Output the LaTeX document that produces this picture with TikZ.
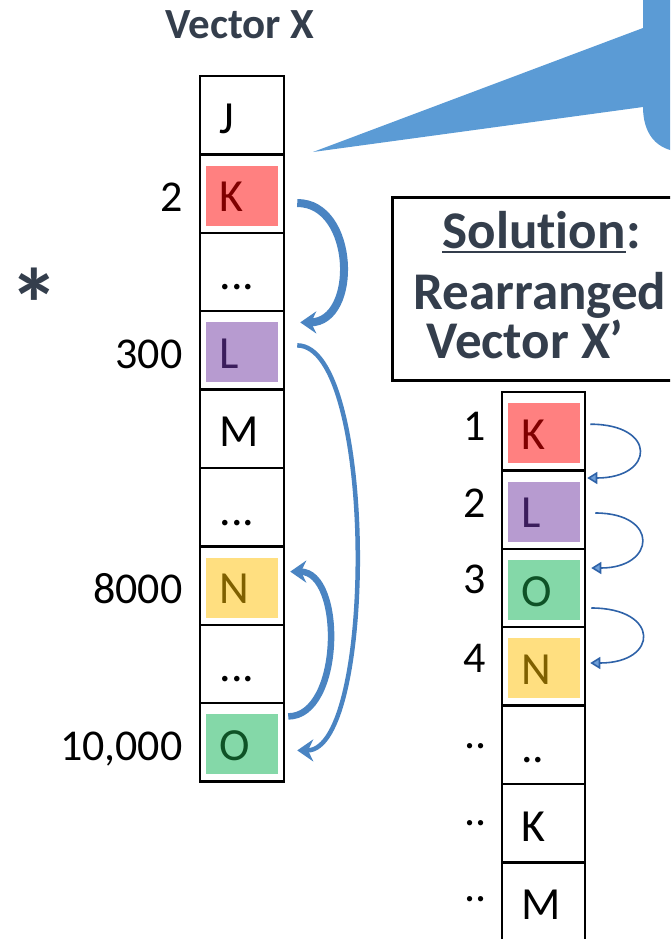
\documentclass[tikz,border=0pt]{standalone}
\usepackage{fontspec}
\setmainfont{Carlito}[Ligatures={TeX,NoCommon}]
\usepackage{tikz}
\usetikzlibrary{arrows.meta}
\usepackage{xcolor}
\definecolor{slate}{HTML}{343E4C}
\definecolor{callout}{HTML}{5B9BD5}
\definecolor{bigblue}{HTML}{4A84C2}
\definecolor{smblue}{HTML}{2E62A8}
\definecolor{smfill}{HTML}{6F9FD8}
\definecolor{kred}{HTML}{FF8080}
\definecolor{kdark}{HTML}{800000}
\definecolor{lpur}{HTML}{B79BD0}
\definecolor{ldark}{HTML}{3B1D5C}
\definecolor{ogreen}{HTML}{84D8A8}
\definecolor{odark}{HTML}{0E5226}
\definecolor{nyel}{HTML}{FFDF80}
\definecolor{ndark}{HTML}{7F6000}
\newcommand{\cellfont}{\fontsize{46}{54}\selectfont}
\newcommand{\idxfont}{\fontsize{44}{53}\selectfont}
\newcommand{\titlefont}{\fontsize{43}{50}\selectfont\bfseries}
\newcommand{\headfont}{\fontsize{53}{64}\selectfont\bfseries}

\begin{document}
\begin{tikzpicture}[x=1pt,y=-1pt,
  cell/.style={draw,line width=2.5pt,minimum width=84pt,minimum height=78.4pt,inner sep=0pt,
    text width=45pt,align=left,text height=35.6pt,text depth=0pt,font=\cellfont},
  chip/.style 2 args={fill=#1,text=#2,minimum width=72pt,minimum height=60pt,inner sep=0pt,
    text width=45pt,align=left,text height=32pt,text depth=0pt,font=\cellfont},
  idx/.style={font=\idxfont,inner sep=0pt,anchor=base east},
  head/.style={font=\headfont,text=slate,inner sep=0pt},
  big/.style={draw=bigblue,line width=#1,-{Stealth[length=16pt,width=22pt]}},
  small/.style={draw=smblue,line width=1.6pt,-{Triangle[length=10pt,width=12pt,fill=smfill]}}]
\useasboundingbox (0,0) rectangle (670,939);
\clip (0,0) rectangle (670,939);

% callout pointer
\fill[callout] (313,152) -- (643,28) -- (643,-5) -- (700,-5) -- (700,152) -- (685,152)
  .. controls (655,152) and (643,132) .. (643,107) -- cycle;

% vector X
\node[font=\titlefont,text=slate,anchor=base] (ttlX) at (240,39) {Vector X};
\node[font=\fontsize{100}{110}\selectfont\bfseries,text=slate,anchor=north,inner sep=0pt] (star) at (34,268) {*};

\node[cell] (xJ) at (242,115.2) {J};
\node[cell] (xK) at (242,193.6) {};
\node[chip={kred}{kdark}] (cK) at ([yshift=-2pt]xK.center) {K};
\node[cell] (xd1) at (242,272) {...};
\node[cell] (xL) at (242,350.4) {};
\node[chip={lpur}{ldark}] (cL) at ([yshift=-2pt]xL.center) {L};
\node[cell] (xM) at (242,428.8) {M};
\node[cell] (xd2) at (242,507.2) {...};
\node[cell] (xN) at (242,585.6) {};
\node[chip={nyel}{ndark}] (cN) at ([yshift=-2pt]xN.center) {N};
\node[cell] (xd3) at (242,664) {...};
\node[cell] (xO) at (242,742.4) {};
\node[chip={ogreen}{odark}] (cO) at ([yshift=-2pt]xO.center) {O};

\node[idx] (iK) at ([xshift=-16pt]xK.base west) {2};
\node[idx] (iL) at ([xshift=-16pt]xL.base west) {300};
\node[idx] (iN) at ([xshift=-16pt]xN.base west) {8000};
\node[idx] (iO) at ([xshift=-16pt]xO.base west) {10,000};

\draw[big=8pt] ([xshift=12pt,yshift=-9.4pt]xK.east) to[out=0,in=0,looseness=1.25] ([xshift=15pt,yshift=28pt]xL.east);
\draw[big=4.5pt] ([xshift=12pt,yshift=5pt]xL.east) to[out=0,in=0,looseness=0.5] ([xshift=12pt,yshift=-8pt]xO.east);
\draw[big=6.5pt] ([xshift=3pt,yshift=26pt]xO.east) to[out=0,in=0,looseness=0.95] ([xshift=5pt,yshift=14pt]xN.east);

% solution box
\node[draw,line width=3pt,minimum width=309pt,minimum height=183pt,anchor=north west] (solbox) at (391,196) {};
\node[head,anchor=base east] (sol) at (626,248) {Solution};
\node[head,anchor=base west] (colon) at (sol.base east) {:};
\draw[slate,line width=2.5pt] ([yshift=-4pt]sol.base west) -- ([yshift=-4pt]sol.base east);
\node[head,anchor=base] (rearr) at (540,309) {Rearranged};
\node[head,anchor=base] (vecX) at (525,358) {Vector X’};

% vector X'
\node[cell,minimum width=83pt] (yK) at (543.5,431.2) {};
\node[chip={kred}{kdark}] (dK) at ([yshift=-2pt]yK.center) {K};
\node[cell,minimum width=83pt] (yL) at (543.5,509.6) {};
\node[chip={lpur}{ldark}] (dL) at ([yshift=-2pt]yL.center) {L};
\node[cell,minimum width=83pt] (yO) at (543.5,588) {};
\node[chip={ogreen}{odark}] (dO) at ([yshift=-2pt]yO.center) {O};
\node[cell,minimum width=83pt] (yN) at (543.5,666.4) {};
\node[chip={nyel}{ndark}] (dN) at ([yshift=-2pt]yN.center) {N};
\node[cell,minimum width=83pt] (yd) at (543.5,744.8) {..};
\node[cell,minimum width=83pt] (yK2) at (543.5,823.2) {K};
\node[cell,minimum width=83pt] (yM) at (543.5,901.6) {M};

\node[idx] (j1) at (486,440) {1};
\node[idx] (j2) at (486,517) {2};
\node[idx] (j3) at (486,593) {3};
\node[idx] (j4) at (486,672) {4};
\node[idx] (j5) at (487,748) {..};
\node[idx] (j6) at (487,825) {..};
\node[idx] (j7) at (487,901) {..};

\draw[small] ([xshift=4pt,yshift=7pt]yK.east) to[out=0,in=0,looseness=3.2] ([xshift=1pt,yshift=31.6pt]yL.east);
\draw[small] ([xshift=9pt,yshift=-3.4pt]yL.east) to[out=0,in=0,looseness=3] ([xshift=5pt,yshift=20pt]yO.east);
\draw[small] ([xshift=5pt,yshift=-20pt]yO.east) to[out=0,in=0,looseness=3.2] ([xshift=4pt,yshift=3.4pt]yN.east);
\end{tikzpicture}
\end{document}
